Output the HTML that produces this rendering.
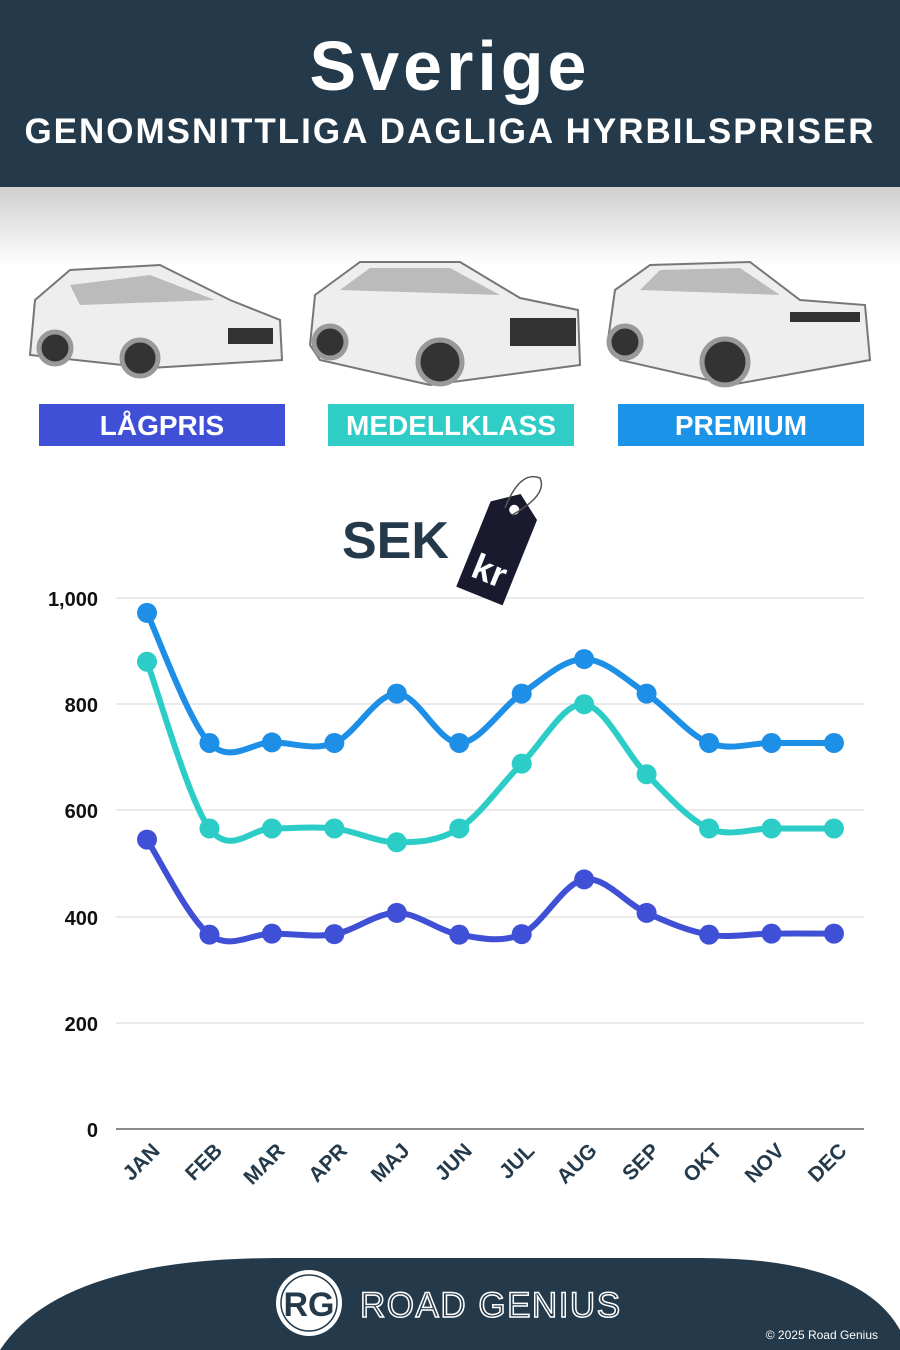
<!DOCTYPE html><html><head><meta charset="utf-8"><style>
body{margin:0;width:900px;height:1350px;background:#fff;position:relative;overflow:hidden;font-family:"Liberation Sans",sans-serif}
.hdr{position:absolute;left:0;top:0;width:900px;height:187px;background:#243a4b;color:#fff;text-align:center}
.t1{position:absolute;top:26px;width:100%;font-size:70px;font-weight:900;letter-spacing:4px}
.t2{position:absolute;top:112px;width:100%;font-size:35px;font-weight:bold;letter-spacing:2px}
.shade{position:absolute;top:187px;left:0;width:900px;height:80px;background:linear-gradient(#cfcfcf,#fff)}
.lab{position:absolute;top:404px;height:42px;width:246px;color:#fff;font-weight:bold;font-size:28px;text-align:center;line-height:43px}
</style></head><body>
<div class="hdr"><div class="t1">Sverige</div><div class="t2">GENOMSNITTLIGA DAGLIGA HYRBILSPRISER</div></div>
<div class="shade"></div>
<svg width="900" height="1350" style="position:absolute;left:0;top:0">
<g fill="#eeeeef" stroke="#777" stroke-width="2">
<path d="M30 355 L35 300 L70 270 L160 265 L230 300 L280 320 L282 360 L150 368 Z"/>
<path d="M310 345 L315 295 L360 262 L460 262 L520 298 L578 310 L580 365 L430 385 L320 360 Z"/>
<path d="M608 340 L615 290 L650 265 L750 262 L800 300 L865 305 L870 360 L730 385 L620 360 Z"/>
</g>
<g fill="#bbb"><path d="M70 285 L150 275 L215 300 L80 305 Z"/><path d="M340 290 L370 268 L450 268 L500 295 Z"/><path d="M640 290 L660 270 L740 268 L780 295 Z"/></g>
<g fill="#333" stroke="#999" stroke-width="5"><circle cx="55" cy="348" r="16"/><circle cx="140" cy="358" r="18"/><circle cx="330" cy="342" r="16"/><circle cx="440" cy="362" r="22"/><circle cx="625" cy="342" r="16"/><circle cx="725" cy="362" r="23"/></g>
<g fill="#333"><rect x="228" y="328" width="45" height="16"/><rect x="510" y="318" width="66" height="28"/><rect x="790" y="312" width="70" height="10"/></g>
<g stroke="#d4d4d4" stroke-width="1">
<line x1="116" y1="598" x2="864" y2="598"/><line x1="116" y1="704" x2="864" y2="704"/><line x1="116" y1="810" x2="864" y2="810"/><line x1="116" y1="917" x2="864" y2="917"/><line x1="116" y1="1023" x2="864" y2="1023"/></g>
<line x1="116" y1="1129" x2="864" y2="1129" stroke="#444" stroke-width="1.2"/>
<g font-weight="bold" font-size="20" fill="#111" text-anchor="end">
<text x="98" y="606">1,000</text><text x="98" y="712">800</text><text x="98" y="818">600</text><text x="98" y="925">400</text><text x="98" y="1031">200</text><text x="98" y="1137">0</text></g>
<g id="xl" font-weight="bold" font-size="21" fill="#243a4b" text-anchor="end"></g>
<g id="series"></g>
<text x="342" y="558" font-size="52" font-weight="900" fill="#243a4b">SEK</text>
<g transform="rotate(22 500 545)"><path d="M475 508 L500 490 L525 508 L525 600 L475 600 Z" fill="#1a1a2e"/><circle cx="500" cy="507" r="5" fill="#fff"/><text x="500" y="585" font-size="36" font-weight="bold" fill="#fff" text-anchor="middle">kr</text></g>
<path d="M505 508 Q520 470 540 478 Q548 495 512 515" fill="none" stroke="#555" stroke-width="1.5"/>
<path d="M0 1350 Q60 1258 280 1258 L700 1258 Q860 1258 900 1330 L900 1350 Z" fill="#243a4b"/>
<circle cx="309" cy="1303" r="33" fill="#fff"/><circle cx="309" cy="1303" r="28" fill="none" stroke="#243a4b" stroke-width="1.5"/>
<text x="309" y="1316" font-size="34" font-weight="bold" fill="#243a4b" text-anchor="middle">RG</text>
<text x="360" y="1317" font-size="35" fill="none" stroke="#fff" stroke-width="1.5" letter-spacing="1.5">ROAD GENIUS</text>
<text x="878" y="1339" font-size="12" fill="#fff" text-anchor="end">© 2025 Road Genius</text>
</svg>
<div class="lab" style="left:39px;background:#4050d6">LÅGPRIS</div>
<div class="lab" style="left:328px;background:#2fcdc6">MEDELLKLASS</div>
<div class="lab" style="left:618px;background:#1a93e8">PREMIUM</div>
<script>
var xs=[],m=["JAN","FEB","MAR","APR","MAJ","JUN","JUL","AUG","SEP","OKT","NOV","DEC"];
for(var i=0;i<12;i++)xs.push(147+i*62.45);
function y(v){return 1129-v*0.531}
var S=[["#1e8fe6",[972,727,728,727,820,727,820,885,820,727,727,727]],["#2ccdc7",[880,566,566,566,540,566,688,800,668,566,566,566]],["#3f50d6",[545,366,368,367,407,366,367,470,407,366,368,368]]];
var h="";
S.forEach(function(s){var p=s[1].map(function(v,i){return[xs[i],y(v)]});var d="M"+p[0];
for(var i=0;i<11;i++){var a=p[Math.max(i-1,0)],b=p[i],c=p[i+1],e=p[Math.min(i+2,11)];
d+=" C"+(b[0]+(c[0]-a[0])/6)+","+(b[1]+(c[1]-a[1])/6)+" "+(c[0]-(e[0]-b[0])/6)+","+(c[1]-(e[1]-b[1])/6)+" "+c;}
h+='<path d="'+d+'" fill="none" stroke="'+s[0]+'" stroke-width="6"/>';
p.forEach(function(q){h+='<circle cx="'+q[0]+'" cy="'+q[1]+'" r="10" fill="'+s[0]+'"/>'});});
document.getElementById("series").innerHTML=h;
var t="";m.forEach(function(l,i){t+='<text transform="translate('+(xs[i]+14)+',1152) rotate(-45)">'+l+'</text>'});
document.getElementById("xl").innerHTML=t;
</script>
</body></html>
